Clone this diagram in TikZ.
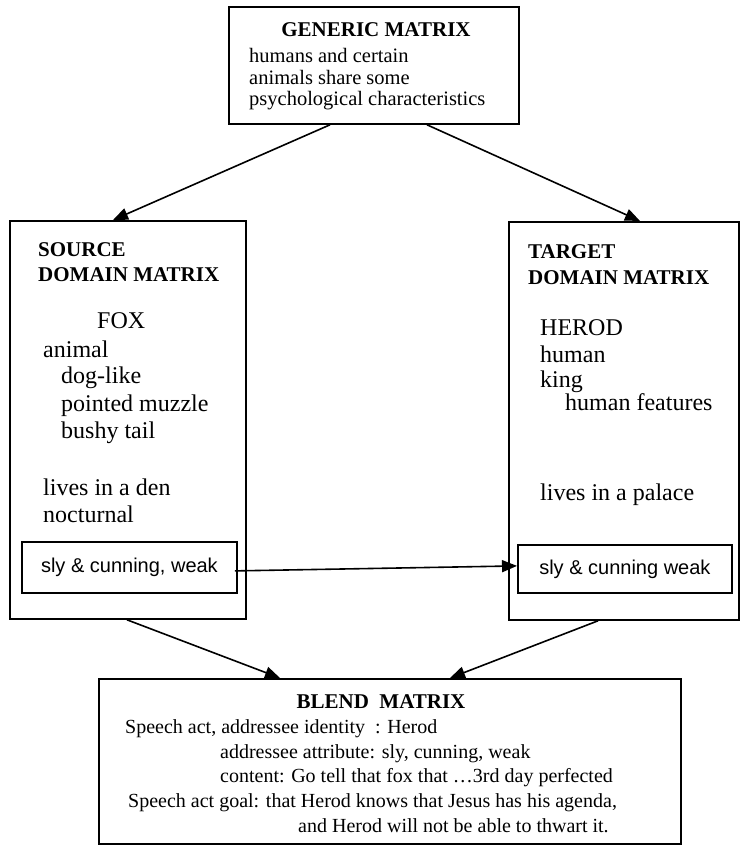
\documentclass[tikz,border=0pt]{standalone}
\usepackage{fontspec}
\setmainfont{Liberation Serif}
\newfontfamily\arialfont{Liberation Sans}
\usetikzlibrary{arrows.meta}

\tikzset{
  box/.style={draw, line width=1.8pt, rectangle, inner sep=0pt, anchor=north west},
  slybox/.style={box, font=\arialfont\fontsize{20}{22}\selectfont},
  txt/.style={inner sep=0pt, anchor=base west},
  head/.style={inner sep=0pt, anchor=base west, font=\bfseries\fontsize{21}{24}\selectfont},
  body/.style={txt, font=\fontsize{24}{27}\selectfont},
  gbody/.style={txt, font=\fontsize{20.5}{22}\selectfont},
  bbody/.style={txt, font=\fontsize{20}{22}\selectfont},
  arr/.style={line width=1.6pt, -{Triangle[length=15pt,width=12pt]}}
}

\begin{document}
\begin{tikzpicture}[x=1pt,y=-1pt]
\useasboundingbox (0,0) rectangle (739,845);

% frames
\node[box, minimum width=290pt, minimum height=117pt] (generic) at (228,6) {};
\node[box, minimum width=236pt, minimum height=398pt] (source) at (9,220) {};
\node[box, minimum width=230pt, minimum height=398pt] (target) at (508,221) {};
\node[box, minimum width=582pt, minimum height=165pt] (blend) at (98,678) {};
\node[slybox, minimum width=215pt, minimum height=51pt] (srcsly) at (21,541) {sly \& cunning, weak};
\node[slybox, minimum width=214pt, minimum height=48pt] (tgtsly) at (517,544) {sly \& cunning weak};

% generic matrix
\node[head, anchor=base] (gtitle) at (376,37) {GENERIC MATRIX};
\node[gbody] (g1) at (249,63) {humans and certain};
\node[gbody] (g2) at (249,84.5) {animals share some};
\node[gbody] (g3) at (249,106) {psychological characteristics};

% source domain
\node[head] (s1) at (38,256) {SOURCE};
\node[head] (s2) at (38,281) {DOMAIN MATRIX};
\node[body] (s3) at (97,328) {FOX};
\node[body] (s4) at (43,357) {animal};
\node[body] (s5) at (61,383) {dog-like};
\node[body] (s6) at (61,411) {pointed muzzle};
\node[body] (s7) at (61,438) {bushy tail};
\node[body] (s8) at (43,495) {lives in a den};
\node[body] (s9) at (43,522) {nocturnal};

% target domain
\node[head] (t1) at (528,258) {TARGET};
\node[head] (t2) at (528,284) {DOMAIN MATRIX};
\node[body] (t3) at (540,335) {HEROD};
\node[body] (t4) at (540,362) {human};
\node[body] (t5) at (540,387) {king};
\node[body] (t6) at (565,410) {human features};
\node[body] (t7) at (540,500) {lives in a palace};

% blend
\node[head, anchor=base] (btitle) at (381,708) {BLEND~~MATRIX};
\node[bbody] (b1) at (125,733) {Speech act, addressee identity~~: Herod};
\node[bbody] (b2) at (220,758) {addressee attribute: sly, cunning, weak};
\node[bbody] (b3) at (220,782) {content: Go tell that fox that …3rd day perfected};
\node[bbody] (b4) at (128,807) {Speech act goal: that Herod knows that Jesus has his agenda,};
\node[bbody] (b5) at (298,832) {and Herod will not be able to thwart it.};

% connectors
\draw[arr] ([xshift=102pt]generic.south west) -- ([xshift=104pt]source.north west);
\draw[arr] ([xshift=199pt]generic.south west) -- ([xshift=132pt]target.north west);
\draw[arr] ([xshift=-3pt,yshift=-3.5pt]srcsly.east) -- ([yshift=3pt]tgtsly.west);
\draw[arr] ([xshift=118pt]source.south west) -- ([xshift=182pt]blend.north west);
\draw[arr] ([xshift=90pt]target.south west) -- ([xshift=352pt]blend.north west);
\end{tikzpicture}
\end{document}
